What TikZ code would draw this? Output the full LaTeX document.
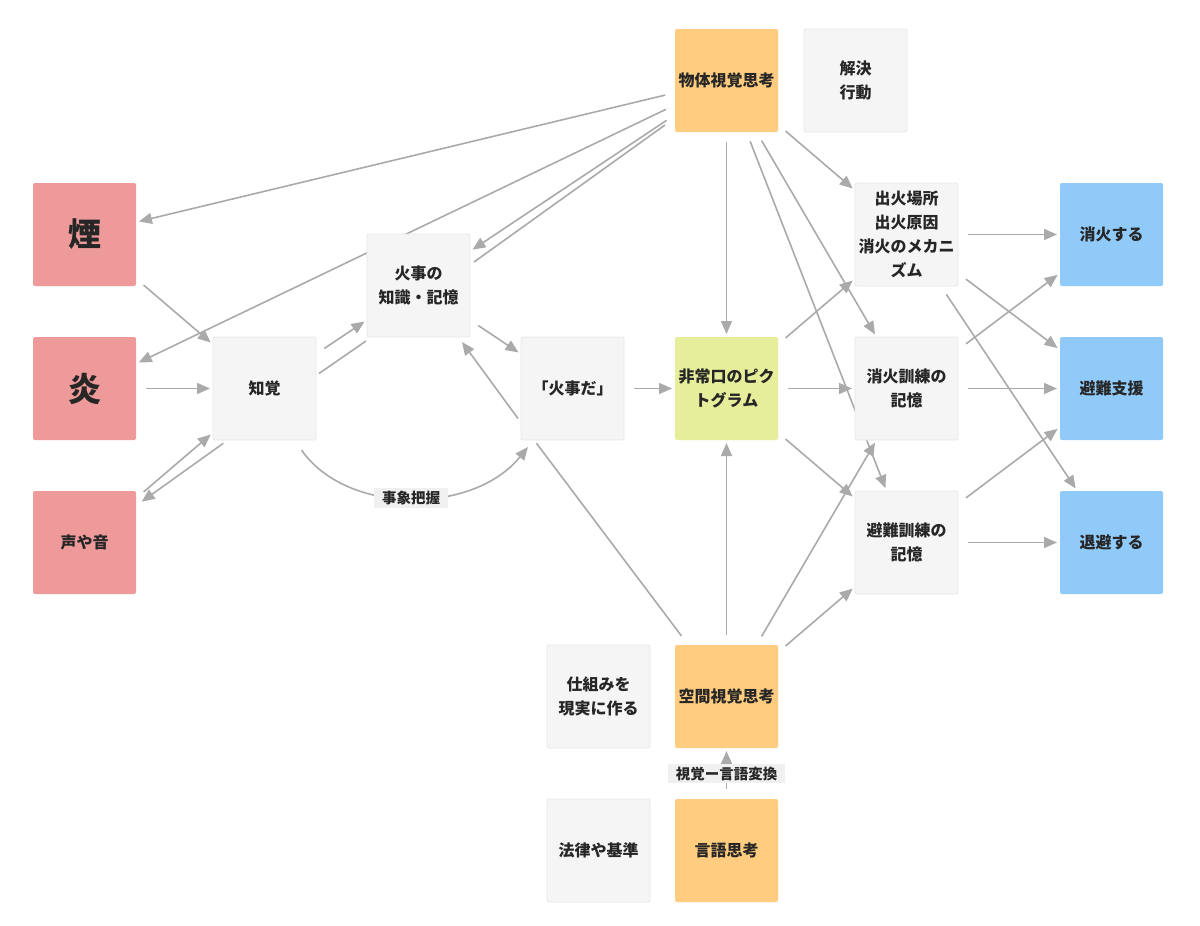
\documentclass[tikz,border=0pt]{standalone}
\usepackage{fontspec}
\setmainfont{Noto Sans CJK JP}
\usetikzlibrary{arrows.meta}
\definecolor{txt}{HTML}{262626}
\definecolor{lc}{HTML}{AAAAAA}
\definecolor{gfill}{HTML}{F5F5F5}
\definecolor{gdraw}{HTML}{E8E8E8}
\definecolor{rfill}{HTML}{EF9A9A}
\definecolor{ofill}{HTML}{FFCC80}
\definecolor{lfill}{HTML}{E6EE9C}
\definecolor{bfill}{HTML}{90CAF9}
\definecolor{labbg}{HTML}{F0F0F0}
\pgfdeclarelayer{back}
\pgfdeclarelayer{edges}
\pgfsetlayers{back,edges,main}
\begin{document}
\begin{tikzpicture}[x=1pt,y=-1pt,
  box/.style={rectangle, rounded corners=2pt, minimum width=103pt, minimum height=103pt,
    inner sep=0pt, outer sep=0pt, align=center, text=txt,
    font=\bfseries\fontsize{16}{24}\selectfont},
  gbox/.style={box, fill=gfill, draw=gdraw, line width=0.8pt},
  rbox/.style={box, fill=rfill},
  obox/.style={box, fill=ofill},
  lbox/.style={box, fill=lfill},
  bbox/.style={box, fill=bfill},
  big/.style={font=\bfseries\fontsize{33}{36}\selectfont},
  arr/.style={draw=lc, line width=1.6pt, -{Triangle[length=13pt,width=11pt]}, shorten <=10pt, shorten >=3pt},
  arrx/.style={draw=lc, line width=1.6pt, -{Triangle[length=13pt,width=11pt]}},
  ln/.style={draw=lc, line width=1.6pt},
  elab/.style={fill=labbg, inner xsep=8pt, inner ysep=3pt, text=txt,
    font=\bfseries\fontsize{14.5}{14.5}\selectfont}
]
\begin{pgfonlayer}{back}
\fill[white] (0,0) rectangle (1200,926);
\end{pgfonlayer}
\useasboundingbox (0,0) rectangle (1200,926);

% nodes
\node[rbox, big] (smoke) at (84.5,234.5) {煙};
\node[rbox, big] (flame) at (84.5,388.5) {炎};
\node[rbox] (sound) at (84.5,542.5) {声や音};
\node[gbox] (percep) at (264.5,388.5) {知覚};
\node[gbox] (know) at (418.5,285.5) {火事の\\知識・記憶};
\node[gbox] (fire) at (572.5,388.5) {「火事だ」};
\node[obox] (obj) at (726.5,80.5) {物体視覚思考};
\node[gbox] (solve) at (855.5,80.5) {解決\\行動};
\node[lbox] (picto) at (726.5,388.5) {非常口のピク\\トグラム};
\node[gbox] (place) at (906.5,234.5) {出火場所\\出火原因\\消火のメカニ\\ズム};
\node[gbox] (ftrain) at (906.5,388.5) {消火訓練の\\記憶};
\node[gbox] (etrain) at (906.5,542.5) {避難訓練の\\記憶};
\node[bbox] (ext) at (1111.5,234.5) {消火する};
\node[bbox] (help) at (1111.5,388.5) {避難支援};
\node[bbox] (evac) at (1111.5,542.5) {退避する};
\node[gbox] (mech) at (598.5,696.5) {仕組みを\\現実に作る};
\node[obox] (space) at (726.5,696.5) {空間視覚思考};
\node[gbox] (law) at (598.5,850.5) {法律や基準};
\node[obox] (lang) at (726.5,850.5) {言語思考};

\begin{pgfonlayer}{edges}
\draw[arr] (obj) -- (smoke);
\draw[arr] (obj) -- (flame);
\draw[arr] (obj) -- (know);
\draw[ln] ([shift={(4,-23.5)}]know.east) -- ([shift={(-10,44.5)}]obj.west);
\draw[arr] (smoke) -- (percep);
\draw[arr] (flame) -- (percep);
\draw[arr] (sound) -- (percep);
\draw[arrx] ([shift={(10.3,3.3)}]percep.south west) -- ([shift={(5.7,10.7)}]sound.north east);
\draw[arr] (percep) -- (know);
\draw[ln] ([shift={(3,-15)}]percep.east) -- ([shift={(-1,4)}]know.south west);
\draw[arrx] ([shift={(37,10)}]percep.south) .. controls +(45,65) and +(-55,68) .. ([shift={(7,7)}]fire.south west) node[pos=0.5, elab] {事象把握};
\draw[arr] (know) -- (fire);
\draw[arrx] ([shift={(-3,30)}]fire.west) -- ([shift={(43.5,5)}]know.south);
\draw[ln] ([shift={(-36,3.3)}]fire.south) -- ([shift={(-45,-9)}]space.north);
\draw[arr] (fire) -- (picto);
\draw[arr] (obj) -- (picto);
\draw[arr] (space) -- (picto);
\draw[arr] (obj) -- (etrain);
\draw[arr] (obj) -- (ftrain);
\draw[arr] (obj) -- (place);
\draw[arr] (picto) -- (place);
\draw[arr] (picto) -- (ftrain);
\draw[arr] (picto) -- (etrain);
\draw[arr] (space) -- (ftrain);
\draw[arr] (space) -- (etrain);
\draw[arr] (place) -- (ext);
\draw[arr] (place) -- (help);
\draw[arr] (place) -- (evac);
\draw[arr] (ftrain) -- (ext);
\draw[arr] (ftrain) -- (help);
\draw[arr] (etrain) -- (help);
\draw[arr] (etrain) -- (evac);
\draw[arr] (lang) -- node[elab] {視覚ー言語変換} (space);
\end{pgfonlayer}
\end{tikzpicture}
\end{document}
